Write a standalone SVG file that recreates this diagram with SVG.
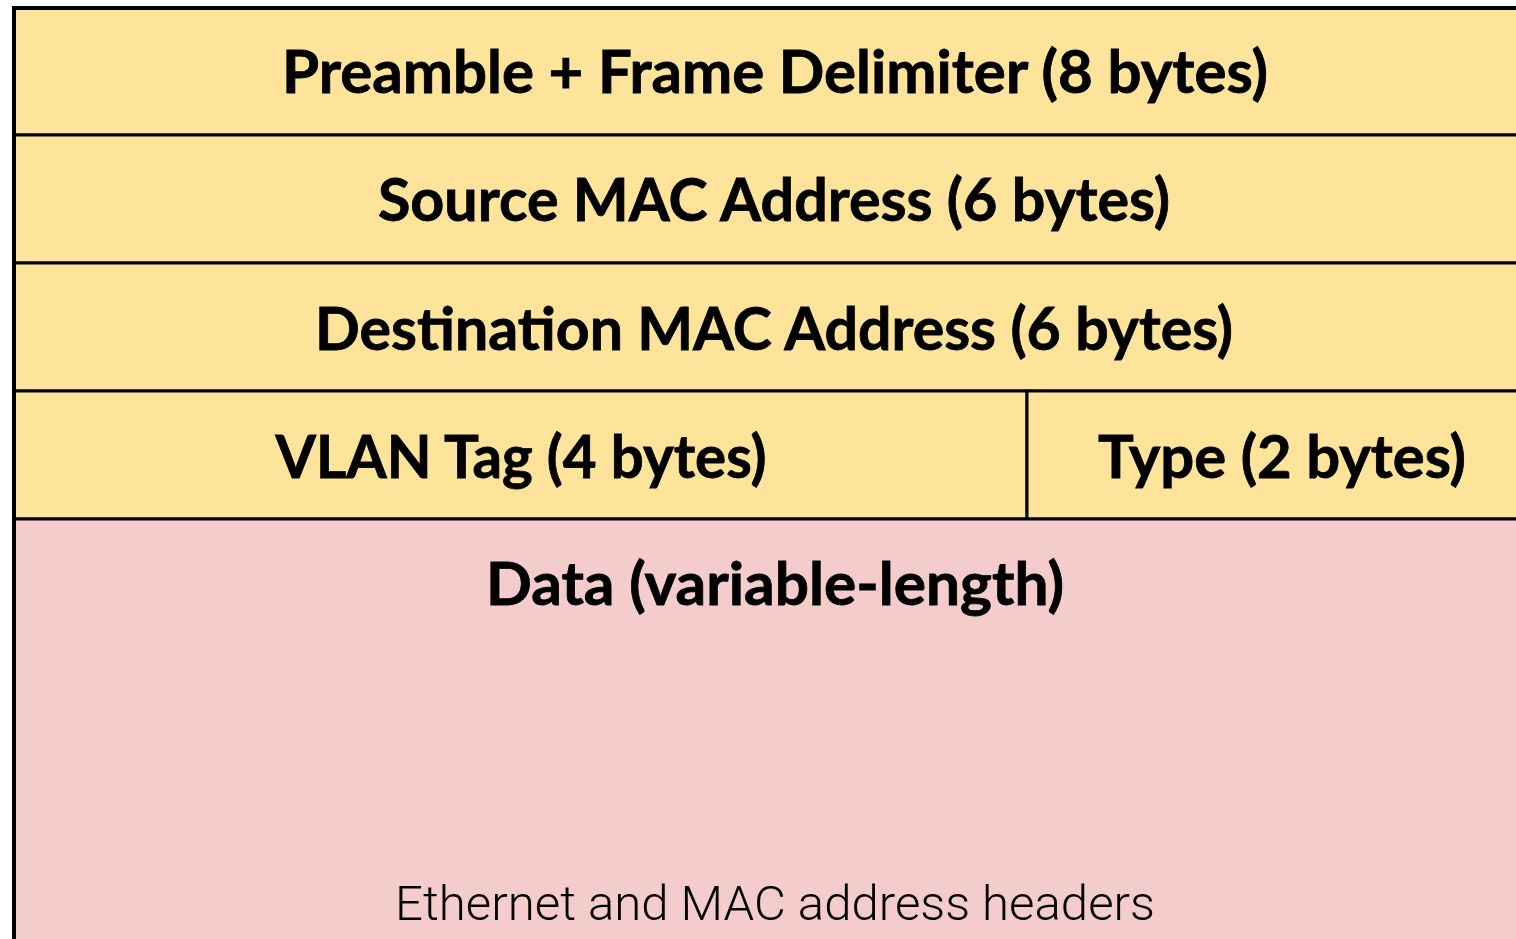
<svg xmlns="http://www.w3.org/2000/svg" width="1516" height="939" viewBox="0 0 1516 939">
  <style>
    .hdr { fill: #FEE49A; stroke: #000; stroke-width: 3; }
    .dat { fill: #F4CCCC; stroke: #000; stroke-width: 3; }
    .lbl { font-family: Lato, "Open Sans", "Liberation Sans", sans-serif; font-weight: 700; font-size: 60px; fill: #000; stroke: #000; stroke-width: 0.8; text-anchor: middle; }
    .cap { font-family: Roboto, "Liberation Sans", sans-serif; font-weight: 300; font-size: 48px; fill: #000; text-anchor: middle; }
  </style>
  <rect width="1516" height="939" fill="#fff"/>

  <!-- Ethernet frame fields, top to bottom -->
  <g id="preamble">
    <rect class="hdr" x="14" y="8" width="1524" height="127"/>
    <text class="lbl" x="775" y="93" textLength="986" lengthAdjust="spacingAndGlyphs">Preamble + Frame Delimiter (8 bytes)</text>
  </g>
  <g id="source-mac">
    <rect class="hdr" x="14" y="135" width="1524" height="128"/>
    <text class="lbl" x="774" y="221" textLength="792" lengthAdjust="spacingAndGlyphs">Source MAC Address (6 bytes)</text>
  </g>
  <g id="destination-mac">
    <rect class="hdr" x="14" y="263" width="1524" height="128"/>
    <text class="lbl" x="774" y="350" textLength="918" lengthAdjust="spacingAndGlyphs">Destination MAC Address (6 bytes)</text>
  </g>
  <g id="vlan-tag">
    <rect class="hdr" x="14" y="391" width="1013" height="128"/>
    <text class="lbl" x="521" y="478" textLength="491" lengthAdjust="spacingAndGlyphs">VLAN Tag (4 bytes)</text>
  </g>
  <g id="type">
    <rect class="hdr" x="1027" y="391" width="511" height="128"/>
    <text class="lbl" x="1282" y="478" textLength="368" lengthAdjust="spacingAndGlyphs">Type (2 bytes)</text>
  </g>
  <g id="data">
    <rect class="dat" x="14" y="519" width="1524" height="440"/>
    <text class="lbl" x="775" y="605" textLength="578" lengthAdjust="spacingAndGlyphs">Data (variable-length)</text>
  </g>

  <!-- thicker outer left/top edge -->
  <g id="frame-edge" fill="none" stroke="#000" stroke-width="4">
    <path d="M14 950 V8 H1516"/>
  </g>

  <text class="cap" x="775" y="920" textLength="760" lengthAdjust="spacingAndGlyphs">Ethernet and MAC address headers</text>
</svg>
